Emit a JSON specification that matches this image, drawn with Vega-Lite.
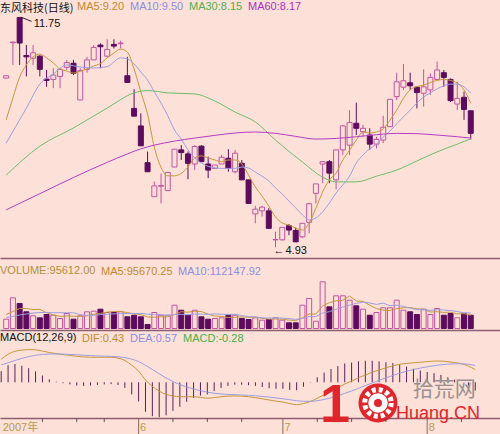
{
"$schema": "https://vega.github.io/schema/vega-lite/v6.json",
"background": "#fde1d8",
"padding": 0,
"spacing": 0,
"bounds": "flush",
"config": {"view": {"stroke": null}, "font": "Liberation Sans"},
"datasets": {
"k": [
{"i":0,"o":9.95,"h":10.02,"l":9.95,"c":10.02,"v":66900,"vm5":100700,"vm10":79100,"dif":0.78,"dea":0.59,"macd":0.38},
{"i":1,"o":11.0,"h":11.03,"l":10.34,"c":11.02,"v":220700,"vm5":122200,"vm10":86300,"dif":0.95,"dea":0.662,"macd":0.58},
{"i":2,"o":11.75,"h":11.75,"l":10.34,"c":10.99,"v":179800,"vm5":143800,"vm10":97100,"dif":1.05,"dea":0.74,"macd":0.62},
{"i":3,"o":10.62,"h":10.93,"l":10.0,"c":10.58,"v":120100,"vm5":143800,"vm10":104300,"dif":1.09,"dea":0.81,"macd":0.56},
{"i":4,"o":10.54,"h":10.93,"l":10.34,"c":10.7,"v":91300,"vm5":135900,"vm10":111400,"dif":1.11,"dea":0.87,"macd":0.48},
{"i":5,"o":10.6,"h":10.63,"l":10.0,"c":10.21,"v":76900,"vm5":138000,"vm10":115000,"dif":1.1,"dea":0.916,"macd":0.37},
{"i":6,"o":9.92,"h":10.19,"l":9.69,"c":9.88,"v":100700,"vm5":113600,"vm10":115000,"dif":1.06,"dea":0.945,"macd":0.23},
{"i":7,"o":9.91,"h":10.24,"l":9.65,"c":10.04,"v":95600,"vm5":97100,"vm10":113600,"dif":1.01,"dea":0.958,"macd":0.1},
{"i":8,"o":10.0,"h":10.24,"l":9.65,"c":10.21,"v":71900,"vm5":87000,"vm10":113600,"dif":0.97,"dea":0.96,"macd":0.02},
{"i":9,"o":10.27,"h":10.49,"l":10.19,"c":10.41,"v":107900,"vm5":90600,"vm10":113200,"dif":0.94,"dea":0.956,"macd":-0.03},
{"i":10,"o":10.39,"h":10.49,"l":10.04,"c":10.09,"v":66900,"vm5":88400,"vm10":113200,"dif":0.91,"dea":0.947,"macd":-0.07},
{"i":11,"o":9.3,"h":10.24,"l":9.3,"c":10.17,"v":91300,"vm5":87000,"vm10":100300,"dif":0.88,"dea":0.934,"macd":-0.11},
{"i":12,"o":10.21,"h":10.58,"l":10.11,"c":10.49,"v":120100,"vm5":91300,"vm10":94200,"dif":0.86,"dea":0.919,"macd":-0.12},
{"i":13,"o":10.49,"h":10.93,"l":10.49,"c":10.86,"v":124400,"vm5":102100,"vm10":94500,"dif":0.85,"dea":0.905,"macd":-0.11},
{"i":14,"o":10.93,"h":10.98,"l":10.24,"c":10.88,"v":138800,"vm5":108600,"vm10":99600,"dif":0.85,"dea":0.894,"macd":-0.09},
{"i":15,"o":10.6,"h":11.1,"l":10.58,"c":10.8,"v":115000,"vm5":117900,"vm10":103200,"dif":0.85,"dea":0.885,"macd":-0.07},
{"i":16,"o":10.95,"h":11.1,"l":10.83,"c":10.9,"v":115000,"vm5":122900,"vm10":105000,"dif":0.85,"dea":0.878,"macd":-0.06},
{"i":17,"o":10.97,"h":11.06,"l":10.83,"c":10.99,"v":120100,"vm5":122900,"vm10":107100,"dif":0.82,"dea":0.866,"macd":-0.09},
{"i":18,"o":10.02,"h":10.58,"l":9.81,"c":9.82,"v":84100,"vm5":114300,"vm10":108200,"dif":0.74,"dea":0.836,"macd":-0.19},
{"i":19,"o":9.05,"h":9.62,"l":8.82,"c":8.82,"v":95600,"vm5":105700,"vm10":107100,"dif":0.58,"dea":0.785,"macd":-0.41},
{"i":20,"o":8.53,"h":8.9,"l":7.94,"c":7.94,"v":84100,"vm5":99900,"vm10":108900,"dif":0.38,"dea":0.704,"macd":-0.65},
{"i":21,"o":7.44,"h":7.77,"l":7.17,"c":7.17,"v":28800,"vm5":82700,"vm10":102800,"dif":0.08,"dea":0.579,"macd":-1.0},
{"i":22,"o":6.43,"h":6.88,"l":6.43,"c":6.75,"v":115000,"vm5":81200,"vm10":102100,"dif":-0.14,"dea":0.435,"macd":-1.15},
{"i":23,"o":6.74,"h":7.12,"l":6.23,"c":6.76,"v":95600,"vm5":84100,"vm10":99200,"dif":-0.3,"dea":0.288,"macd":-1.18},
{"i":24,"o":6.61,"h":7.15,"l":6.61,"c":7.15,"v":95600,"vm5":84100,"vm10":94900,"dif":-0.41,"dea":0.148,"macd":-1.12},
{"i":25,"o":7.31,"h":7.84,"l":7.31,"c":7.84,"v":167500,"vm5":100700,"vm10":100300,"dif":-0.46,"dea":0.026,"macd":-0.97},
{"i":26,"o":7.82,"h":7.96,"l":7.52,"c":7.74,"v":131600,"vm5":120800,"vm10":101700,"dif":-0.49,"dea":-0.077,"macd":-0.83},
{"i":27,"o":7.7,"h":7.77,"l":6.95,"c":7.42,"v":95600,"vm5":117200,"vm10":99200,"dif":-0.49,"dea":-0.16,"macd":-0.66},
{"i":28,"o":7.4,"h":7.96,"l":7.22,"c":7.92,"v":131600,"vm5":124400,"vm10":104300,"dif":-0.49,"dea":-0.226,"macd":-0.53},
{"i":29,"o":7.93,"h":7.96,"l":7.47,"c":7.47,"v":84100,"vm5":122200,"vm10":103200,"dif":-0.51,"dea":-0.283,"macd":-0.45},
{"i":30,"o":7.4,"h":7.62,"l":6.98,"c":7.22,"v":66900,"vm5":102100,"vm10":101400,"dif":-0.54,"dea":-0.334,"macd":-0.41},
{"i":31,"o":7.27,"h":7.37,"l":7.27,"c":7.37,"v":71900,"vm5":89900,"vm10":105300,"dif":-0.52,"dea":-0.371,"macd":-0.3},
{"i":32,"o":7.4,"h":7.67,"l":7.4,"c":7.6,"v":76900,"vm5":86300,"vm10":101700,"dif":-0.49,"dea":-0.395,"macd":-0.19},
{"i":33,"o":7.57,"h":7.84,"l":7.17,"c":7.27,"v":95600,"vm5":79100,"vm10":101700,"dif":-0.47,"dea":-0.41,"macd":-0.12},
{"i":34,"o":7.17,"h":7.82,"l":7.12,"c":7.72,"v":95600,"vm5":81200,"vm10":101700,"dif":-0.46,"dea":-0.42,"macd":-0.08},
{"i":35,"o":7.42,"h":7.52,"l":6.93,"c":6.93,"v":71900,"vm5":82700,"vm10":92400,"dif":-0.47,"dea":-0.43,"macd":-0.08},
{"i":36,"o":6.93,"h":6.93,"l":6.23,"c":6.23,"v":64700,"vm5":81200,"vm10":85600,"dif":-0.49,"dea":-0.442,"macd":-0.1},
{"i":37,"o":5.92,"h":6.16,"l":5.64,"c":6.06,"v":76900,"vm5":81200,"vm10":83800,"dif":-0.52,"dea":-0.458,"macd":-0.12},
{"i":38,"o":6.01,"h":6.16,"l":5.84,"c":6.12,"v":59700,"vm5":74100,"vm10":76600,"dif":-0.56,"dea":-0.478,"macd":-0.16},
{"i":39,"o":6.01,"h":6.09,"l":5.49,"c":5.49,"v":64700,"vm5":67600,"vm10":74400,"dif":-0.6,"dea":-0.502,"macd":-0.2},
{"i":40,"o":5.15,"h":5.39,"l":4.93,"c":5.16,"v":76900,"vm5":68300,"vm10":75500,"dif":-0.64,"dea":-0.53,"macd":-0.22},
{"i":41,"o":5.15,"h":5.52,"l":5.13,"c":5.52,"v":59700,"vm5":67600,"vm10":74400,"dif":-0.67,"dea":-0.558,"macd":-0.22},
{"i":42,"o":5.57,"h":5.62,"l":5.29,"c":5.44,"v":41000,"vm5":60400,"vm10":70800,"dif":-0.72,"dea":-0.59,"macd":-0.26},
{"i":43,"o":5.43,"h":5.51,"l":5.09,"c":5.09,"v":41000,"vm5":56800,"vm10":65400,"dif":-0.76,"dea":-0.624,"macd":-0.27},
{"i":44,"o":5.24,"h":5.64,"l":5.2,"c":5.64,"v":167500,"vm5":76900,"vm10":72300,"dif":-0.72,"dea":-0.643,"macd":-0.15},
{"i":45,"o":5.67,"h":6.25,"l":5.34,"c":6.22,"v":215700,"vm5":105000,"vm10":86600,"dif":-0.65,"dea":-0.644,"macd":-0.01},
{"i":46,"o":6.53,"h":6.81,"l":6.23,"c":6.81,"v":52500,"vm5":103500,"vm10":85600,"dif":-0.54,"dea":-0.623,"macd":0.17},
{"i":47,"o":7.4,"h":7.47,"l":6.83,"c":7.47,"v":335800,"vm5":162500,"vm10":111400,"dif":-0.42,"dea":-0.583,"macd":0.33},
{"i":48,"o":7.47,"h":7.52,"l":6.83,"c":7.13,"v":156000,"vm5":185500,"vm10":121200,"dif":-0.3,"dea":-0.526,"macd":0.45},
{"i":49,"o":6.93,"h":7.82,"l":6.65,"c":7.82,"v":235100,"vm5":199200,"vm10":138000,"dif":-0.18,"dea":-0.457,"macd":0.55},
{"i":50,"o":7.82,"h":8.56,"l":7.67,"c":8.53,"v":235100,"vm5":202800,"vm10":153900,"dif":-0.06,"dea":-0.378,"macd":0.64},
{"i":51,"o":7.96,"h":9.0,"l":7.67,"c":8.63,"v":203500,"vm5":233000,"vm10":168200,"dif":0.04,"dea":-0.294,"macd":0.67},
{"i":52,"o":8.61,"h":9.22,"l":8.26,"c":8.46,"v":163200,"vm5":198400,"vm10":180500,"dif":0.15,"dea":-0.205,"macd":0.71},
{"i":53,"o":8.36,"h":8.56,"l":8.21,"c":8.46,"v":138800,"vm5":194800,"vm10":190200,"dif":0.25,"dea":-0.114,"macd":0.73},
{"i":54,"o":8.26,"h":8.46,"l":7.82,"c":7.99,"v":95600,"vm5":167500,"vm10":183300,"dif":0.34,"dea":-0.023,"macd":0.73},
{"i":55,"o":7.99,"h":8.21,"l":7.86,"c":8.13,"v":115000,"vm5":143100,"vm10":172900,"dif":0.42,"dea":0.066,"macd":0.71},
{"i":56,"o":8.11,"h":8.83,"l":8.02,"c":8.49,"v":148800,"vm5":132300,"vm10":182600,"dif":0.49,"dea":0.151,"macd":0.68},
{"i":57,"o":8.51,"h":9.32,"l":8.51,"c":9.32,"v":148800,"vm5":129400,"vm10":163900,"dif":0.56,"dea":0.233,"macd":0.65},
{"i":58,"o":9.4,"h":10.11,"l":9.3,"c":9.84,"v":203500,"vm5":142400,"vm10":168600,"dif":0.61,"dea":0.308,"macd":0.6},
{"i":59,"o":9.68,"h":10.37,"l":9.6,"c":9.87,"v":131600,"vm5":149600,"vm10":158500,"dif":0.64,"dea":0.375,"macd":0.53},
{"i":60,"o":9.81,"h":10.11,"l":9.6,"c":9.72,"v":120100,"vm5":150300,"vm10":146700,"dif":0.66,"dea":0.432,"macd":0.46},
{"i":61,"o":9.68,"h":9.7,"l":9.05,"c":9.52,"v":100700,"vm5":140900,"vm10":136600,"dif":0.68,"dea":0.482,"macd":0.4},
{"i":62,"o":9.5,"h":10.21,"l":9.1,"c":9.69,"v":138800,"vm5":138800,"vm10":134100,"dif":0.7,"dea":0.526,"macd":0.35},
{"i":63,"o":9.6,"h":10.09,"l":9.45,"c":9.97,"v":100700,"vm5":118600,"vm10":130500,"dif":0.72,"dea":0.564,"macd":0.31},
{"i":64,"o":9.91,"h":10.44,"l":9.91,"c":10.19,"v":143800,"vm5":120800,"vm10":135200,"dif":0.72,"dea":0.595,"macd":0.25},
{"i":65,"o":10.11,"h":10.19,"l":9.69,"c":9.97,"v":95600,"vm5":115800,"vm10":133000,"dif":0.7,"dea":0.616,"macd":0.17},
{"i":66,"o":9.91,"h":9.94,"l":9.24,"c":9.28,"v":107900,"vm5":117200,"vm10":129100,"dif":0.67,"dea":0.627,"macd":0.09},
{"i":67,"o":9.18,"h":9.84,"l":9.0,"c":9.35,"v":76900,"vm5":105000,"vm10":121900,"dif":0.63,"dea":0.628,"macd":0.0},
{"i":68,"o":9.38,"h":9.55,"l":8.71,"c":9.02,"v":107900,"vm5":106400,"vm10":112500,"dif":0.55,"dea":0.612,"macd":-0.12},
{"i":69,"o":8.98,"h":8.98,"l":8.13,"c":8.31,"v":95612,"vm5":95670.25,"vm10":112147.92,"dif":0.43,"dea":0.57,"macd":-0.28}
],
"ma": [
{"i":0,"s":"MA5","p":8.71},{"i":1,"s":"MA5","p":9.36},{"i":2,"s":"MA5","p":9.98},{"i":3,"s":"MA5","p":10.34},{"i":4,"s":"MA5","p":10.58},{"i":5,"s":"MA5","p":10.66},{"i":6,"s":"MA5","p":10.55},{"i":7,"s":"MA5","p":10.4},{"i":8,"s":"MA5","p":10.22},{"i":9,"s":"MA5","p":10.16},{"i":10,"s":"MA5","p":10.1},{"i":11,"s":"MA5","p":10.15},{"i":12,"s":"MA5","p":10.22},{"i":13,"s":"MA5","p":10.31},{"i":14,"s":"MA5","p":10.38},{"i":15,"s":"MA5","p":10.55},{"i":16,"s":"MA5","p":10.69},{"i":17,"s":"MA5","p":10.81},{"i":18,"s":"MA5","p":10.72},{"i":19,"s":"MA5","p":10.22},{"i":20,"s":"MA5","p":9.54},{"i":21,"s":"MA5","p":8.88},{"i":22,"s":"MA5","p":7.9},{"i":23,"s":"MA5","p":7.3},{"i":24,"s":"MA5","p":7.05},{"i":25,"s":"MA5","p":7.05},{"i":26,"s":"MA5","p":7.12},{"i":27,"s":"MA5","p":7.31},{"i":28,"s":"MA5","p":7.58},{"i":29,"s":"MA5","p":7.64},{"i":30,"s":"MA5","p":7.58},{"i":31,"s":"MA5","p":7.52},{"i":32,"s":"MA5","p":7.47},{"i":33,"s":"MA5","p":7.52},{"i":34,"s":"MA5","p":7.52},{"i":35,"s":"MA5","p":7.4},{"i":36,"s":"MA5","p":7.07},{"i":37,"s":"MA5","p":6.72},{"i":38,"s":"MA5","p":6.45},{"i":39,"s":"MA5","p":6.15},{"i":40,"s":"MA5","p":5.83},{"i":41,"s":"MA5","p":5.65},{"i":42,"s":"MA5","p":5.59},{"i":43,"s":"MA5","p":5.5},{"i":44,"s":"MA5","p":5.44},{"i":45,"s":"MA5","p":5.65},{"i":46,"s":"MA5","p":6.09},{"i":47,"s":"MA5","p":6.57},{"i":48,"s":"MA5","p":6.93},{"i":49,"s":"MA5","p":7.13},{"i":50,"s":"MA5","p":7.52},{"i":51,"s":"MA5","p":7.81},{"i":52,"s":"MA5","p":8.11},{"i":53,"s":"MA5","p":8.35},{"i":54,"s":"MA5","p":8.32},{"i":55,"s":"MA5","p":8.35},{"i":56,"s":"MA5","p":8.44},{"i":57,"s":"MA5","p":8.7},{"i":58,"s":"MA5","p":9.0},{"i":59,"s":"MA5","p":9.35},{"i":60,"s":"MA5","p":9.6},{"i":61,"s":"MA5","p":9.7},{"i":62,"s":"MA5","p":9.74},{"i":63,"s":"MA5","p":9.82},{"i":64,"s":"MA5","p":9.88},{"i":65,"s":"MA5","p":9.91},{"i":66,"s":"MA5","p":9.88},{"i":67,"s":"MA5","p":9.8},{"i":68,"s":"MA5","p":9.6},{"i":69,"s":"MA5","p":9.2},
{"i":0,"s":"MA10","p":8.02},{"i":3,"s":"MA10","p":9.06},{"i":5,"s":"MA10","p":9.77},{"i":7,"s":"MA10","p":10.07},{"i":9,"s":"MA10","p":10.34},{"i":11,"s":"MA10","p":10.28},{"i":13,"s":"MA10","p":10.25},{"i":15,"s":"MA10","p":10.29},{"i":17,"s":"MA10","p":10.55},{"i":18,"s":"MA10","p":10.52},{"i":19,"s":"MA10","p":10.37},{"i":20,"s":"MA10","p":10.13},{"i":21,"s":"MA10","p":9.89},{"i":22,"s":"MA10","p":9.54},{"i":23,"s":"MA10","p":9.21},{"i":24,"s":"MA10","p":8.83},{"i":25,"s":"MA10","p":8.41},{"i":26,"s":"MA10","p":8.14},{"i":27,"s":"MA10","p":7.82},{"i":28,"s":"MA10","p":7.58},{"i":29,"s":"MA10","p":7.43},{"i":30,"s":"MA10","p":7.33},{"i":32,"s":"MA10","p":7.27},{"i":34,"s":"MA10","p":7.27},{"i":35,"s":"MA10","p":7.31},{"i":36,"s":"MA10","p":7.28},{"i":37,"s":"MA10","p":7.16},{"i":38,"s":"MA10","p":7.04},{"i":39,"s":"MA10","p":6.9},{"i":40,"s":"MA10","p":6.69},{"i":41,"s":"MA10","p":6.51},{"i":42,"s":"MA10","p":6.3},{"i":43,"s":"MA10","p":6.1},{"i":44,"s":"MA10","p":5.89},{"i":45,"s":"MA10","p":5.74},{"i":46,"s":"MA10","p":5.8},{"i":47,"s":"MA10","p":5.98},{"i":48,"s":"MA10","p":6.24},{"i":49,"s":"MA10","p":6.54},{"i":50,"s":"MA10","p":6.78},{"i":51,"s":"MA10","p":7.04},{"i":52,"s":"MA10","p":7.43},{"i":53,"s":"MA10","p":7.67},{"i":54,"s":"MA10","p":7.85},{"i":55,"s":"MA10","p":7.99},{"i":56,"s":"MA10","p":8.2},{"i":57,"s":"MA10","p":8.38},{"i":58,"s":"MA10","p":8.59},{"i":59,"s":"MA10","p":8.8},{"i":60,"s":"MA10","p":9.0},{"i":61,"s":"MA10","p":9.21},{"i":62,"s":"MA10","p":9.39},{"i":63,"s":"MA10","p":9.51},{"i":64,"s":"MA10","p":9.63},{"i":65,"s":"MA10","p":9.72},{"i":66,"s":"MA10","p":9.77},{"i":67,"s":"MA10","p":9.77},{"i":68,"s":"MA10","p":9.69},{"i":69,"s":"MA10","p":9.5},
{"i":0,"s":"MA30","p":7.07},{"i":5,"s":"MA30","p":7.93},{"i":10,"s":"MA30","p":8.47},{"i":15,"s":"MA30","p":9.06},{"i":19,"s":"MA30","p":9.51},{"i":21,"s":"MA30","p":9.58},{"i":24,"s":"MA30","p":9.51},{"i":28,"s":"MA30","p":9.48},{"i":31,"s":"MA30","p":9.27},{"i":34,"s":"MA30","p":8.94},{"i":37,"s":"MA30","p":8.65},{"i":40,"s":"MA30","p":8.11},{"i":44,"s":"MA30","p":7.46},{"i":47,"s":"MA30","p":7.01},{"i":49,"s":"MA30","p":6.87},{"i":52,"s":"MA30","p":6.87},{"i":55,"s":"MA30","p":7.04},{"i":58,"s":"MA30","p":7.22},{"i":61,"s":"MA30","p":7.49},{"i":64,"s":"MA30","p":7.76},{"i":67,"s":"MA30","p":7.99},{"i":69,"s":"MA30","p":8.15},
{"i":0,"s":"MA60","p":6.04},{"i":5,"s":"MA60","p":6.52},{"i":10,"s":"MA60","p":7.0},{"i":15,"s":"MA60","p":7.45},{"i":18,"s":"MA60","p":7.7},{"i":20,"s":"MA60","p":7.85},{"i":22,"s":"MA60","p":7.96},{"i":25,"s":"MA60","p":8.08},{"i":28,"s":"MA60","p":8.17},{"i":31,"s":"MA60","p":8.25},{"i":34,"s":"MA60","p":8.32},{"i":37,"s":"MA60","p":8.35},{"i":40,"s":"MA60","p":8.31},{"i":43,"s":"MA60","p":8.22},{"i":46,"s":"MA60","p":8.14},{"i":49,"s":"MA60","p":8.16},{"i":52,"s":"MA60","p":8.21},{"i":55,"s":"MA60","p":8.27},{"i":58,"s":"MA60","p":8.31},{"i":61,"s":"MA60","p":8.3},{"i":64,"s":"MA60","p":8.26},{"i":67,"s":"MA60","p":8.21},{"i":69,"s":"MA60","p":8.17}
],
"t": [
{"i":0,"t":"2007年","k":"s"},{"i":20,"t":"6","k":"m"},{"i":41,"t":"7","k":"m"},{"i":62,"t":"8","k":"m"},
{"i":6,"t":"","k":"w"},{"i":11,"t":"","k":"w"},{"i":15,"t":"","k":"w"},{"i":25,"t":"","k":"w"},{"i":30,"t":"","k":"w"},{"i":35,"t":"","k":"w"},{"i":46,"t":"","k":"w"},{"i":51,"t":"","k":"w"},{"i":56,"t":"","k":"w"},{"i":67,"t":"","k":"w"}
]
},
"vconcat": [
{
"width": 500, "height": 258,
"encoding": {"x": {"field": "i", "type": "quantitative", "scale": {"domain": [-0.175, 72.6], "nice": false, "zero": false}, "axis": {"title": null, "labels": false, "ticks": false, "grid": false, "domain": true, "domainColor": "#8b5e70", "domainWidth": 1.5}}},
"layer": [
{"data": {"name": "k"}, "mark": {"type": "rule", "strokeWidth": 1, "clip": true},
 "encoding": {
  "y": {"field": "l", "type": "quantitative", "scale": {"domain": [4.611, 12.267], "nice": false, "zero": false}, "axis": {"title": null, "labels": false, "ticks": false, "domain": false, "grid": true, "values": [5,6,7,8,9,10,11], "gridColor": "#6f5050", "gridDash": [1,2], "gridWidth": 1}},
  "y2": {"field": "h"},
  "stroke": {"condition": {"test": "datum.c >= datum.o", "value": "#c1559f"}, "value": "#5d0b5d"}}},
{"data": {"name": "k"}, "mark": {"type": "bar", "width": 5, "strokeWidth": 1, "clip": true},
 "encoding": {
  "y": {"field": "o", "type": "quantitative", "axis": null},
  "y2": {"field": "c"},
  "fill": {"condition": {"test": "datum.c >= datum.o", "value": "#fde1d8"}, "value": "#5d0b5d"},
  "stroke": {"condition": {"test": "datum.c >= datum.o", "value": "#c1559f"}, "value": "#5d0b5d"}}},
{"data": {"name": "ma"}, "mark": {"type": "line", "interpolate": "monotone", "clip": true},
 "encoding": {
  "y": {"field": "p", "type": "quantitative", "axis": null},
  "strokeWidth": {"field": "s", "type": "nominal", "scale": {"domain": ["MA5", "MA10", "MA30", "MA60"], "range": [1, 1, 1, 1.6]}, "legend": null},
  "color": {"field": "s", "type": "nominal",
   "scale": {"domain": ["MA5", "MA10", "MA30", "MA60"], "range": ["#c8963c", "#9d9ee0", "#6dbd6d", "#b43ec2"]},
   "legend": {"orient": "none", "legendX": 0, "legendY": 1, "direction": "horizontal",
    "title": "东风科技(日线)", "titleOrient": "left", "titleAnchor": "middle", "titleBaseline": "middle", "titleFont": "Noto Sans CJK SC", "titleFontSize": 11, "titleFontWeight": "normal", "titleColor": "#111111", "titlePadding": 3,
    "labelFont": "Liberation Sans", "labelFontSize": 11, "labelOffset": -11,
    "labelExpr": "datum.value == 'MA5' ? 'MA5:9.20' : datum.value == 'MA10' ? 'MA10:9.50' : datum.value == 'MA30' ? 'MA30:8.15' : 'MA60:8.17'",
    "symbolSize": 0.01, "symbolStrokeWidth": 0, "symbolOpacity": 0, "columnPadding": 5, "padding": 0,
    "encode": {"title": {"update": {"dy": {"value": 3}}}, "labels": {"update": {"fill": {"signal": "datum.value == 'MA5' ? '#c08a30' : datum.value == 'MA10' ? '#8c8ce0' : datum.value == 'MA30' ? '#4fb04f' : '#b030c0'"}}}}}}}},
{"data": {"name": "k"}, "transform": [{"filter": "datum.i == 2"}], "mark": {"type": "rule", "stroke": "#222222", "strokeWidth": 1, "xOffset": 2, "x2Offset": 12, "y2Offset": 4},
 "encoding": {"y": {"field": "h", "type": "quantitative", "axis": null}, "x2": {"field": "i"}, "y2": {"field": "h"}}},
{"data": {"name": "k"}, "transform": [{"filter": "datum.i == 2"}], "mark": {"type": "text", "align": "left", "baseline": "middle", "dx": 14, "dy": 7, "fontSize": 11, "color": "#111111"},
 "encoding": {"y": {"field": "h", "type": "quantitative", "axis": null}, "text": {"field": "h", "type": "quantitative", "format": ".2f"}}},
{"data": {"name": "k"}, "transform": [{"filter": "datum.i == 40"}], "mark": {"type": "text", "align": "left", "baseline": "middle", "dx": -2, "dy": 4, "fontSize": 11, "color": "#111111", "text": "←"},
 "encoding": {"y": {"field": "l", "type": "quantitative", "axis": null}}},
{"data": {"name": "k"}, "transform": [{"filter": "datum.i == 40"}], "mark": {"type": "text", "align": "left", "baseline": "middle", "dx": 10, "dy": 4, "fontSize": 11, "color": "#111111"},
 "encoding": {"y": {"field": "l", "type": "quantitative", "axis": null}, "text": {"field": "l", "type": "quantitative", "format": ".2f"}}}
]
},
{
"width": 500, "height": 72,
"data": {"name": "k"},
"encoding": {"x": {"field": "i", "type": "quantitative", "scale": {"domain": [-0.175, 72.6], "nice": false, "zero": false}, "axis": {"title": null, "labels": false, "ticks": false, "grid": false, "domain": true, "domainColor": "#8b5e70", "domainWidth": 1.5}}},
"layer": [
{"mark": {"type": "bar", "width": 5, "strokeWidth": 1, "clip": true},
 "encoding": {
  "y": {"field": "v", "type": "quantitative", "scale": {"domain": [-10785, 506895], "nice": false, "zero": false}, "axis": {"title": null, "labels": false, "ticks": false, "domain": false, "grid": true, "values": [185500], "gridColor": "#6f5050", "gridDash": [1,2], "gridWidth": 1}},
  "y2": {"datum": 0},
  "fill": {"condition": {"test": "datum.c >= datum.o", "value": "#fde1d8"}, "value": "#5d0b5d"},
  "stroke": {"condition": {"test": "datum.c >= datum.o", "value": "#c1559f"}, "value": "#5d0b5d"}}},
{"mark": {"type": "line", "strokeWidth": 1, "clip": true},
 "encoding": {
  "y": {"field": "vm5", "type": "quantitative", "axis": null},
  "color": {"datum": "MA5", "type": "nominal",
   "scale": {"domain": ["MA5", "MA10"], "range": ["#c8963c", "#9d9ee0"]},
   "legend": {"orient": "none", "legendX": 0, "legendY": 8, "direction": "horizontal",
    "title": "VOLUME:95612.00", "titleOrient": "left", "titleAnchor": "middle", "titleBaseline": "middle", "titleFont": "Liberation Sans", "titleFontSize": 11, "titleFontWeight": "normal", "titleColor": "#b09040", "titlePadding": 5,
    "labelFont": "Liberation Sans", "labelFontSize": 11, "labelOffset": -11,
    "labelExpr": "datum.value == 'MA5' ? 'MA5:95670.25' : 'MA10:112147.92'",
    "symbolSize": 0.01, "symbolStrokeWidth": 0, "symbolOpacity": 0, "columnPadding": 5, "padding": 0,
    "encode": {"labels": {"update": {"fill": {"signal": "datum.value == 'MA5' ? '#c08a30' : '#8c8ce0'"}}}}}}}},
{"mark": {"type": "line", "strokeWidth": 1, "clip": true},
 "encoding": {
  "y": {"field": "vm10", "type": "quantitative", "axis": null},
  "color": {"datum": "MA10", "type": "nominal"}}}
]
},
{
"width": 500, "height": 88,
"data": {"name": "k"},
"encoding": {"x": {"field": "i", "type": "quantitative", "scale": {"domain": [-0.175, 72.6], "nice": false, "zero": false}, "axis": {"title": null, "labels": false, "ticks": false, "grid": false, "domain": true, "domainColor": "#8b5e70", "domainWidth": 1.5}}},
"layer": [
{"mark": {"type": "rule", "strokeWidth": 1, "color": "#5a1e5a", "clip": true},
 "encoding": {
  "y": {"field": "macd", "type": "quantitative", "scale": {"domain": [-1.21, 1.773], "nice": false, "zero": false}, "axis": {"title": null, "labels": false, "ticks": false, "domain": false, "grid": true, "values": [0, 1], "gridColor": "#6f5050", "gridDash": [1,2], "gridWidth": 1}},
  "y2": {"datum": 0}}},
{"mark": {"type": "line", "strokeWidth": 1, "interpolate": "monotone", "clip": true},
 "encoding": {
  "y": {"field": "dif", "type": "quantitative", "axis": null},
  "color": {"datum": "DIF", "type": "nominal",
   "scale": {"domain": ["DIF", "DEA", "MACD"], "range": ["#c8963c", "#9d9ee0", "#4fb04f"]},
   "legend": {"orient": "none", "legendX": 0, "legendY": 3, "direction": "horizontal",
    "title": "MACD(12,26,9)", "titleOrient": "left", "titleAnchor": "middle", "titleBaseline": "middle", "titleFont": "Liberation Sans", "titleFontSize": 11, "titleFontWeight": "normal", "titleColor": "#111111", "titlePadding": 5,
    "labelFont": "Liberation Sans", "labelFontSize": 11, "labelOffset": -11,
    "labelExpr": "datum.value == 'DIF' ? 'DIF:0.43' : datum.value == 'DEA' ? 'DEA:0.57' : 'MACD:-0.28'",
    "symbolSize": 0.01, "symbolStrokeWidth": 0, "symbolOpacity": 0, "columnPadding": 5, "padding": 0,
    "encode": {"labels": {"update": {"fill": {"signal": "datum.value == 'DIF' ? '#c08a30' : datum.value == 'DEA' ? '#8c8ce0' : '#44b044'"}}}}}}}},
{"mark": {"type": "line", "strokeWidth": 1, "interpolate": "monotone", "clip": true},
 "encoding": {
  "y": {"field": "dea", "type": "quantitative", "axis": null},
  "color": {"datum": "DEA", "type": "nominal"}}},
{"transform": [{"filter": "datum.i == 69"}], "mark": {"type": "text", "align": "left", "baseline": "alphabetic", "font": "Liberation Sans", "fontSize": 54, "fontWeight": "bold", "color": "#e0262c", "text": "1"},
 "encoding": {"x": {"datum": 46.4}, "y": {"datum": -1.344}}},
{"transform": [{"filter": "datum.i == 69"}], "mark": {"type": "point", "shape": "circle", "filled": true, "size": 1520, "color": "#e0262c", "opacity": 1},
 "encoding": {"x": {"datum": 54.84}, "y": {"datum": -0.70}}},
{"transform": [{"filter": "datum.i == 69"}], "mark": {"type": "point", "shape": "circle", "filled": true, "size": 380, "color": "#ffffff", "opacity": 1},
 "encoding": {"x": {"datum": 54.84}, "y": {"datum": -0.70}}},
{"transform": [{"filter": "datum.i == 69"}], "mark": {"type": "point", "shape": "circle", "filled": false, "size": 707, "color": "#ffffff", "strokeWidth": 5, "strokeDash": [4, 3], "opacity": 1},
 "encoding": {"x": {"datum": 54.84}, "y": {"datum": -0.70}}},
{"transform": [{"filter": "datum.i == 69"}], "mark": {"type": "point", "shape": "circle", "filled": true, "size": 64, "color": "#e0262c", "opacity": 1},
 "encoding": {"x": {"datum": 54.84}, "y": {"datum": -0.70}}},
{"transform": [{"filter": "datum.i == 69"}], "mark": {"type": "text", "align": "left", "baseline": "middle", "font": "Noto Sans CJK SC", "fontSize": 21, "color": "#9a9090", "text": "拾荒网"},
 "encoding": {"x": {"datum": 59.9}, "y": {"datum": -0.261}}},
{"transform": [{"filter": "datum.i == 69"}], "mark": {"type": "text", "align": "left", "baseline": "alphabetic", "font": "Liberation Sans", "fontSize": 18, "color": "#e0262c", "text": "Huang.CN"},
 "encoding": {"x": {"datum": 57.46}, "y": {"datum": -1.227}}}
]
},
{
"width": 500, "height": 16,
"data": {"name": "t"},
"encoding": {"x": {"field": "i", "type": "quantitative", "scale": {"domain": [-0.175, 72.6], "nice": false, "zero": false}, "axis": null}},
"layer": [
{"transform": [{"filter": "datum.k == 'm'"}], "mark": {"type": "rule", "color": "#8a6a5a", "strokeWidth": 1},
 "encoding": {"y": {"datum": 1, "type": "quantitative", "scale": {"domain": [0, 1]}, "axis": null}, "y2": {"datum": 0}}},
{"transform": [{"filter": "datum.k == 'w'"}], "mark": {"type": "rule", "color": "#6a4a5a", "strokeWidth": 1},
 "encoding": {"y": {"datum": 1, "type": "quantitative", "axis": null}, "y2": {"datum": 0.75}}},
{"transform": [{"filter": "datum.t != ''"}], "mark": {"type": "text", "align": "left", "baseline": "middle", "dx": 1.5, "dy": 1.5, "fontSize": 11, "font": "Liberation Sans, Noto Sans CJK SC", "color": "#b79a4e"},
 "encoding": {"y": {"datum": 0.45, "type": "quantitative", "axis": null}, "text": {"field": "t"}}}
]
}
],
"resolve": {"scale": {"color": "independent", "x": "independent", "y": "independent"}, "legend": {"color": "independent"}}
}
